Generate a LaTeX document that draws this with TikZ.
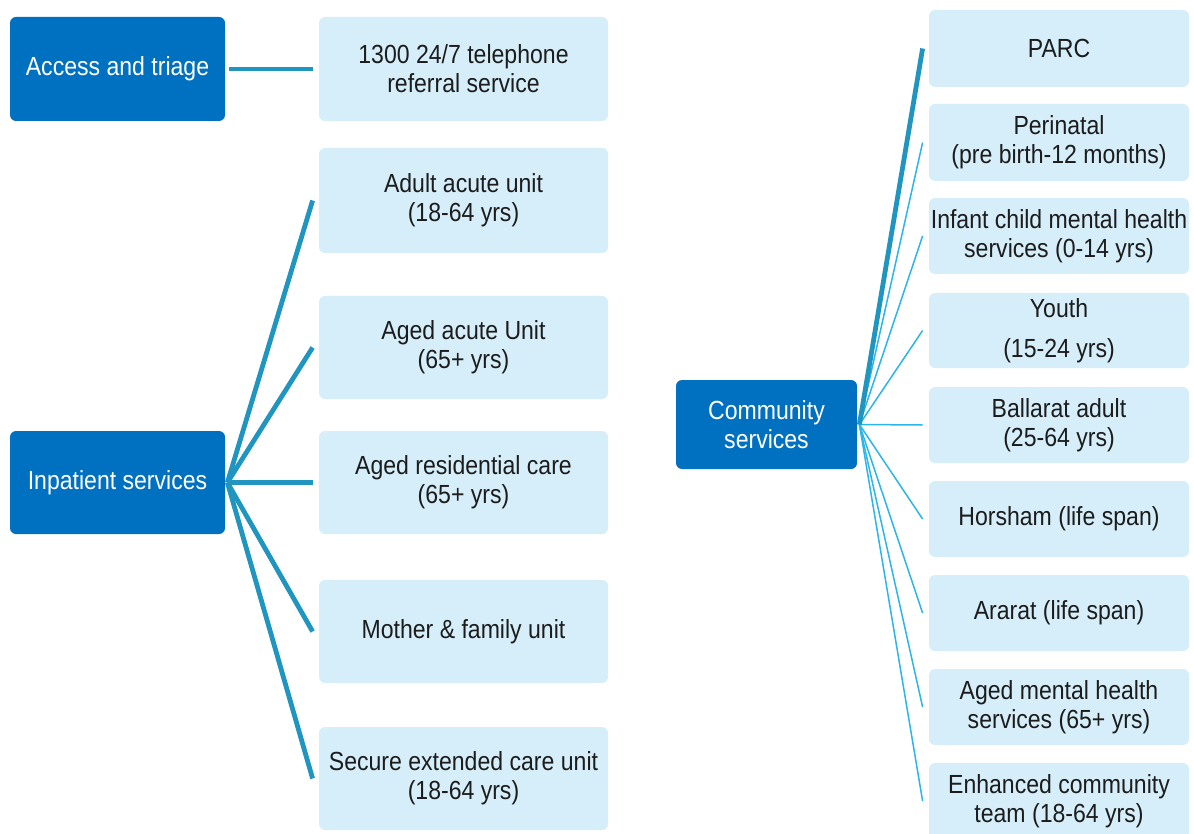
\documentclass[tikz,border=0pt]{standalone}
\usepackage{fontspec}
\setmainfont[FakeStretch=0.88]{Liberation Sans}
\definecolor{darkbox}{HTML}{0070C0}
\definecolor{lightbox}{HTML}{D5EEF9}
\definecolor{thickline}{HTML}{1F95BF}
\definecolor{thinline}{HTML}{2BB5E8}
\definecolor{txt}{HTML}{1C1C1C}
\tikzset{
  x=0.5pt, y=-0.5pt,
  dbox/.style={draw=none, fill=darkbox, rounded corners=3pt, text=white, align=center,
    font=\fontsize{13.1}{14.5}\selectfont, inner sep=0pt},
  lbox/.style={draw=none, fill=lightbox, rounded corners=3pt, text=txt, align=center,
    font=\fontsize{13.1}{14.5}\selectfont, inner sep=0pt},
  thick link/.style={draw=thickline, line width=2.4pt},
  thin link/.style={draw=thinline, line width=0.75pt},
}
\begin{document}
\begin{tikzpicture}
\useasboundingbox (0,0) rectangle (1194,834);
\clip (0,0) rectangle (1194,834);
% left column
\node[dbox, minimum width=107.5pt, minimum height=52pt] (acc) at (117.5,69) {Access and triage};
\node[lbox, minimum width=144.5pt, minimum height=52pt] (tel) at (463.5,69) {1300 24/7 telephone\\referral service};
\node[dbox, minimum width=107.5pt, minimum height=51.5pt] (inp) at (117.5,482.5) {Inpatient services};
\node[lbox, minimum width=144.5pt, minimum height=52.5pt] (adult) at (463.5,200.5) {Adult acute unit\\(18-64 yrs)};
\node[lbox, minimum width=144.5pt, minimum height=51.5pt] (agedac) at (463.5,347.5) {Aged acute Unit\\(65+ yrs)};
\node[lbox, minimum width=144.5pt, minimum height=51.5pt] (agedres) at (463.5,482.5) {Aged residential care\\(65+ yrs)};
\node[lbox, minimum width=144.5pt, minimum height=51.5pt] (mother) at (463.5,631.5) {Mother \& family unit};
\node[lbox, minimum width=144.5pt, minimum height=51.5pt] (secure) at (463.5,778.5) {Secure extended care unit\\(18-64 yrs)};
% community
\node[dbox, minimum width=90.5pt, minimum height=44.5pt] (comm) at (766.5,424.5) {Community\\services};
\node[lbox, minimum width=130pt, minimum height=38.5pt] (parc) at (1059,48.5) {PARC};
\node[lbox, minimum width=130pt, minimum height=38.5pt] (peri) at (1059,142.5) {Perinatal\\(pre birth-12 months)};
\node[lbox, minimum width=130pt, minimum height=38pt] (infant) at (1059,236) {Infant child mental health\\services (0-14 yrs)};
\node[lbox, minimum width=130pt, minimum height=37.5pt] (youth) at (1059,330.5) {Youth\\[5.5pt](15-24 yrs)};
\node[lbox, minimum width=130pt, minimum height=38pt] (ball) at (1059,425) {Ballarat adult\\(25-64 yrs)};
\node[lbox, minimum width=130pt, minimum height=38pt] (hors) at (1059,519) {Horsham (life span)};
\node[lbox, minimum width=130pt, minimum height=38pt] (arar) at (1059,613) {Ararat (life span)};
\node[lbox, minimum width=130pt, minimum height=38pt] (aged) at (1059,707) {Aged mental health\\services (65+ yrs)};
\node[lbox, minimum width=130pt, minimum height=38pt] (enh) at (1059,801) {Enhanced community\\team (18-64 yrs)};
% connectors
\coordinate (ihub) at ([xshift=1pt]inp.east);
\coordinate (chub) at ([xshift=1pt]comm.east);
\draw[thick link] ([xshift=2pt]acc.east) -- ([xshift=-3pt]tel.west);
\foreach \t in {adult,agedac,agedres,mother,secure}
  \draw[thick link] (ihub) -- ([xshift=-3pt]\t.west);
\foreach \t in {peri,infant,youth,ball,hors,arar,aged,enh}
  \draw[thin link] (chub) -- ([xshift=-3pt]\t.west);
\draw[thick link] (chub) -- ([xshift=-3pt]parc.west);
\end{tikzpicture}
\end{document}
